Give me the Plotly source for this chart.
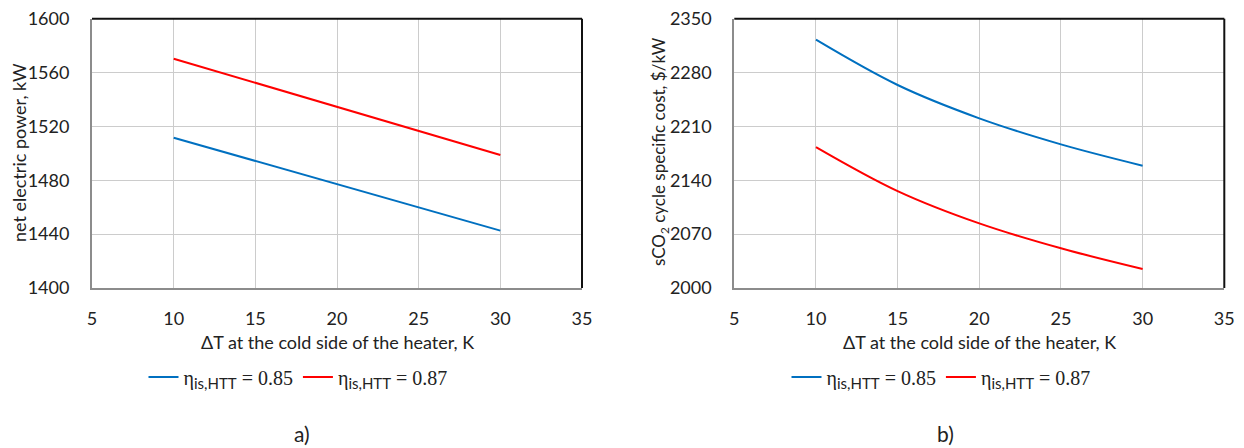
import plotly.graph_objects as go

# Temperature difference at the cold side of the heater, K
delta_t = [10, 15, 20, 25, 30]

# Net electric power, kW
power_085 = [1511.6, 1494.4, 1477.1, 1459.9, 1442.6]
power_087 = [1570.3, 1552.4, 1534.5, 1516.7, 1498.8]

# sCO2 cycle specific cost, $/kW
cost_085 = [2322.7, 2263.8, 2220.5, 2186.7, 2159.0]
cost_087 = [2183.2, 2126.0, 2084.0, 2051.6, 2024.7]

x_ticks = [5, 10, 15, 20, 25, 30, 35]
power_ticks = [1400, 1440, 1480, 1520, 1560, 1600]
cost_ticks = [2000, 2070, 2140, 2210, 2280, 2350]

names = ["0.85", "0.87"]
BLUE = "#0070C0"
RED = "#FF0000"
SANS = "Lato"
SERIF = "Liberation Serif"
W, H = 1244, 448


def eta_label(value):
    # η and the value in a serif face, the subscript in the sans face
    return (f"η<sub><span style='font-family:Lato;font-size:15px'>is,HTT</span></sub>"
            f" = {value}")


fig = go.Figure()

fig.add_trace(go.Scatter(x=delta_t, y=power_085, mode="lines", name=eta_label(names[0]),
                         line=dict(color=BLUE, width=2), xaxis="x", yaxis="y", legend="legend"))
fig.add_trace(go.Scatter(x=delta_t, y=power_087, mode="lines", name=eta_label(names[1]),
                         line=dict(color=RED, width=2), xaxis="x", yaxis="y", legend="legend"))
fig.add_trace(go.Scatter(x=delta_t, y=cost_085, mode="lines", name=eta_label(names[0]),
                         line=dict(color=BLUE, width=2, shape="spline"), xaxis="x2", yaxis="y2",
                         legend="legend2"))
fig.add_trace(go.Scatter(x=delta_t, y=cost_087, mode="lines", name=eta_label(names[1]),
                         line=dict(color=RED, width=2, shape="spline"), xaxis="x2", yaxis="y2",
                         legend="legend2"))

left_dom = [92 / W, 582 / W]
right_dom = [734.3 / W, 1224.3 / W]
y_dom = [1 - 288 / H, 1 - 18.7 / H]

axis_common = dict(showgrid=True, gridcolor="#cccccc", gridwidth=1, zeroline=False,
                   showline=True, linecolor="#8c8c8c", linewidth=2, ticks="",
                   tickfont=dict(family=SANS, size=18, color="#222222"), automargin=False)

fig.update_layout(
    width=W, height=H,
    margin=dict(l=0, r=0, t=0, b=0),
    paper_bgcolor="white", plot_bgcolor="white",
    font=dict(family=SANS, size=18, color="#222222"),
    xaxis=dict(domain=left_dom, anchor="y", range=[5, 35], tickvals=x_ticks,
               ticklabelstandoff=13, **axis_common),
    yaxis=dict(domain=y_dom, anchor="x", range=[1400, 1600], tickvals=power_ticks,
               ticklabelstandoff=17, **axis_common),
    xaxis2=dict(domain=right_dom, anchor="y2", range=[5, 35], tickvals=x_ticks,
                ticklabelstandoff=13, **axis_common),
    yaxis2=dict(domain=y_dom, anchor="x2", range=[2000, 2350], tickvals=cost_ticks,
                ticklabelstandoff=17, **axis_common),
    legend=dict(orientation="h", x=298 / W, xanchor="center", y=1 - 377 / H, yanchor="middle",
                font=dict(family=SERIF, size=20, color="#222222"), itemwidth=30,
                bgcolor="rgba(0,0,0,0)"),
    legend2=dict(orientation="h", x=941 / W, xanchor="center", y=1 - 377 / H, yanchor="middle",
                 font=dict(family=SERIF, size=20, color="#222222"), itemwidth=30,
                 bgcolor="rgba(0,0,0,0)"),
    showlegend=True,
)

# Dark frame on the top and right edges of each plot area
for xr, yr in (("x domain", "y domain"), ("x2 domain", "y2 domain")):
    fig.add_shape(type="line", xref=xr, yref=yr, x0=0, x1=1, y0=1, y1=1,
                  line=dict(color="#111111", width=2))
    fig.add_shape(type="line", xref=xr, yref=yr, x0=1, x1=1, y0=0, y1=1,
                  line=dict(color="#111111", width=2))

annotations = [
    dict(text="ΔT at the cold side of the heater, K", x=337 / W, y=1 - 342 / H, size=18),
    dict(text="ΔT at the cold side of the heater, K", x=979 / W, y=1 - 342 / H, size=18),
    dict(text="net electric power, kW", x=19 / W, y=1 - 153 / H, textangle=-90, size=18),
    dict(text="sCO<sub>2</sub> cycle specific cost, $/kW", x=660 / W, y=1 - 152 / H,
         textangle=-90, size=17),
]
for a in annotations:
    size = a.pop("size")
    fig.add_annotation(xref="paper", yref="paper", showarrow=False, xanchor="center",
                       yanchor="middle", font=dict(family=SANS, size=size, color="#222222"), **a)

for label, xc in (("a)", 302), ("b)", 945)):
    fig.add_annotation(text=label, xref="paper", yref="paper", x=xc / W, y=1 - 433 / H,
                       showarrow=False, xanchor="center", yanchor="middle",
                       font=dict(family=SANS, size=21, color="#222222"))

fig.write_html("out.html")
